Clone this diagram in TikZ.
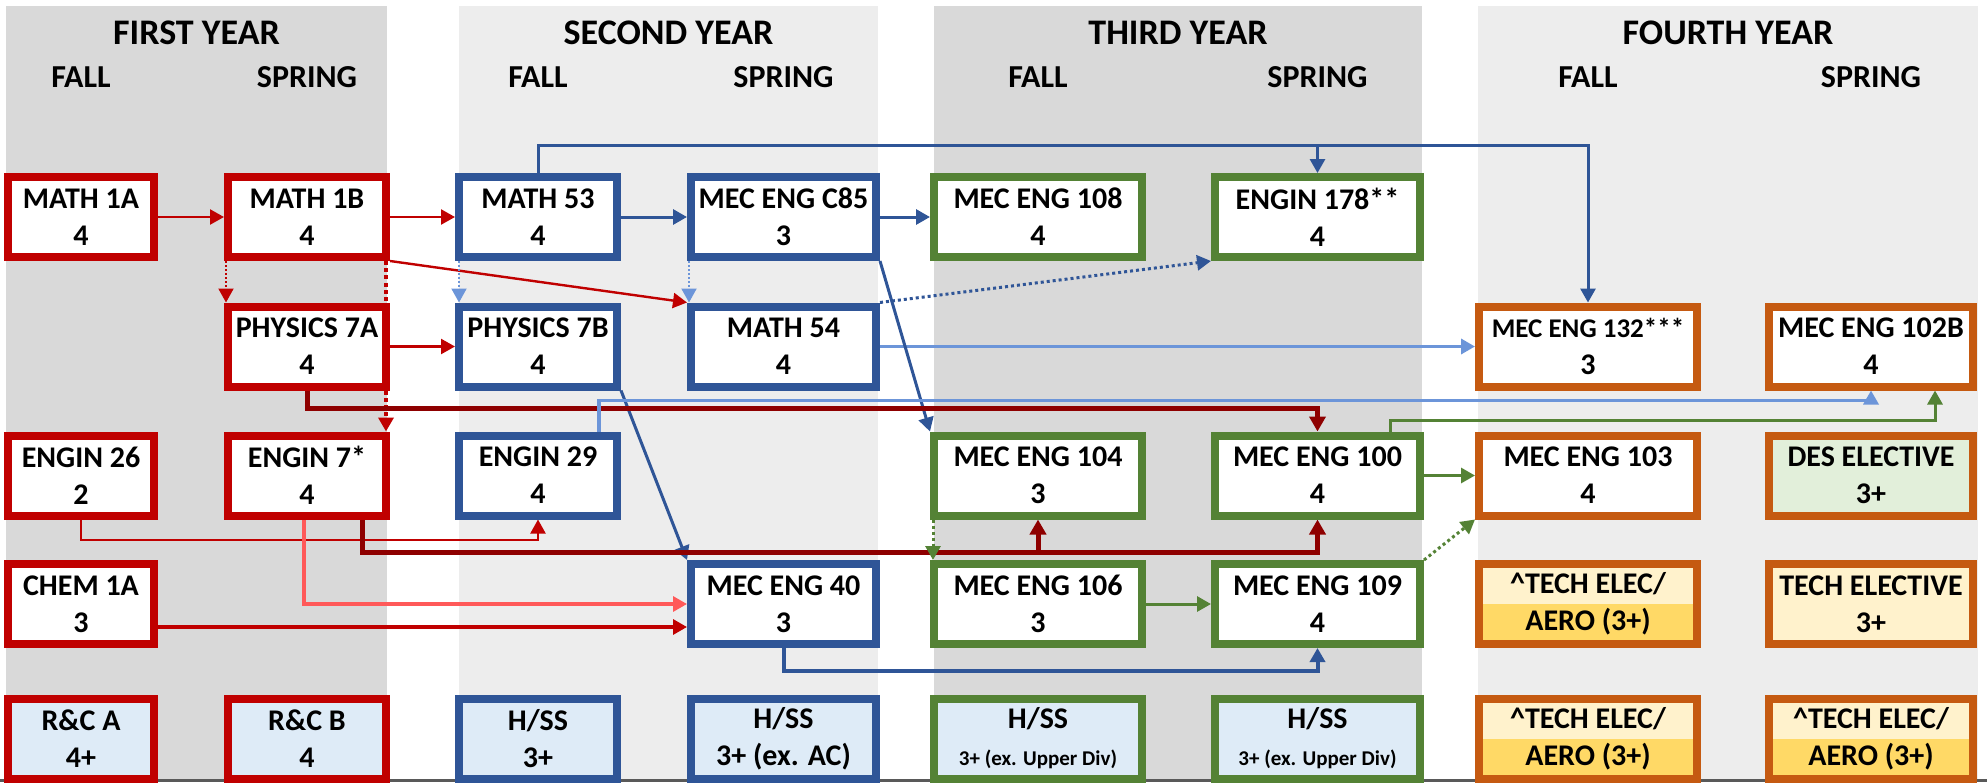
\documentclass[tikz,border=0pt]{standalone}
\usepackage{fontspec}
\setmainfont{Carlito}
\usetikzlibrary{arrows.meta,calc}
\definecolor{courseRed}{HTML}{C00000}
\definecolor{courseBlue}{HTML}{2F5597}
\definecolor{courseGreen}{HTML}{548235}
\definecolor{courseOrange}{HTML}{C55A11}
\definecolor{lineDark}{HTML}{8E0000}
\definecolor{lineSalmon}{HTML}{FF5959}
\definecolor{lineSky}{HTML}{6C95D9}
\definecolor{fillHss}{HTML}{DEEBF7}
\definecolor{fillDes}{HTML}{E2EFDA}
\definecolor{fillTech}{HTML}{FFF2CC}
\definecolor{fillAero}{HTML}{FFD966}
\definecolor{bandDark}{HTML}{D9D9D9}
\definecolor{bandLight}{HTML}{EDEDED}
\definecolor{baseGray}{HTML}{595959}

\pgfdeclarelayer{bands}
\pgfdeclarelayer{links}
\pgfsetlayers{bands,links,main}

\begin{document}
\begin{tikzpicture}[
    x=0.5pt, y=-0.5pt,
    course/.style={
        rectangle,
        line width=4pt,
        fill=white,
        minimum height=40pt,
        inner sep=0pt,
        align=center,
        text=black,
        font=\fontsize{15}{18.5}\selectfont\bfseries
    },
    redBox/.style={course, draw=courseRed},
    blueBox/.style={course, draw=courseBlue},
    greenBox/.style={course, draw=courseGreen},
    orangeBox/.style={course, draw=courseOrange},
    wOne/.style={minimum width=73pt},
    wTwo/.style={minimum width=79pt},
    wThree/.style={minimum width=79pt},
    wFour/.style={minimum width=92.5pt},
    wFive/.style={minimum width=104pt},
    wSix/.style={minimum width=102.5pt},
    wSeven/.style={minimum width=109pt},
    wEight/.style={minimum width=102pt},
    aeroSplit/.style={
        fill=fillTech,
        path picture={\fill[fillAero] (path picture bounding box.west) rectangle (path picture bounding box.south east);}
    },
    yearTitle/.style={font=\fontsize{18}{20}\selectfont\bfseries},
    termLabel/.style={font=\fontsize{16}{20}\selectfont\bfseries},
    redLink/.style={-{Triangle[length=7pt,width=7.5pt]}, draw=courseRed, line width=1.2pt},
    redThin/.style={-{Triangle[length=7pt,width=7.5pt]}, draw=courseRed, line width=1pt},
    redDotted/.style={-{Triangle[length=7pt,width=7.5pt]}, draw=courseRed, line width=1pt, dash pattern=on 1pt off 1pt},
    redDashed/.style={-{Triangle[length=7pt,width=7.5pt]}, draw=courseRed, line width=2pt, dash pattern=on 2pt off 1.6pt},
    darkLink/.style={-{Triangle[length=7.5pt,width=8pt]}, draw=lineDark, line width=2.5pt},
    salmonLink/.style={-{Triangle[length=7pt,width=7.5pt]}, draw=lineSalmon, line width=1.6pt},
    blueLink/.style={-{Triangle[length=7pt,width=7.5pt]}, draw=courseBlue, line width=1.5pt},
    blueDotted/.style={-{Triangle[length=7pt,width=7.5pt]}, draw=courseBlue, line width=1.5pt, dash pattern=on 1.5pt off 1.5pt},
    skyLink/.style={-{Triangle[length=7pt,width=7.5pt]}, draw=lineSky, line width=1.7pt},
    skyDotted/.style={-{Triangle[length=7pt,width=7.5pt]}, draw=lineSky, line width=1pt, dash pattern=on 1pt off 1pt},
    greenLink/.style={-{Triangle[length=7pt,width=7.5pt]}, draw=courseGreen, line width=1.5pt},
    greenDotted/.style={-{Triangle[length=7pt,width=7.5pt]}, draw=courseGreen, line width=1.5pt, dash pattern=on 1.5pt off 1.5pt}
]
\useasboundingbox (0,0) rectangle (1987,782);

% Year bands.
\begin{pgfonlayer}{bands}
\fill[bandDark] (6,6) rectangle (387,782);
\fill[bandLight] (459,6) rectangle (878,782);
\fill[bandDark] (934,6) rectangle (1422,782);
\fill[bandLight] (1478,6) rectangle (1978,782);
\draw[baseGray, line width=1.5pt] (0,780) -- (1987,780);
\end{pgfonlayer}

% Headers.
\node[yearTitle] (yearOne) at (196.5,33) {FIRST YEAR};
\node[yearTitle] (yearTwo) at (668.5,33) {SECOND YEAR};
\node[yearTitle] (yearThree) at (1178,33) {THIRD YEAR};
\node[yearTitle] (yearFour) at (1728,33) {FOURTH YEAR};
\node[termLabel] (fallOne) at (81,77) {FALL};
\node[termLabel] (springOne) at (307,77) {SPRING};
\node[termLabel] (fallTwo) at (538,77) {FALL};
\node[termLabel] (springTwo) at (783.5,77) {SPRING};
\node[termLabel] (fallThree) at (1038,77) {FALL};
\node[termLabel] (springThree) at (1317.5,77) {SPRING};
\node[termLabel] (fallFour) at (1588,77) {FALL};
\node[termLabel] (springFour) at (1871,77) {SPRING};

% Courses, row by row.
\node[redBox, wOne] (m1a) at (81,217) {MATH 1A\\4};
\node[redBox, wTwo] (m1b) at (307,217) {MATH 1B\\4};
\node[blueBox, wThree] (m53) at (538,217) {MATH 53\\4};
\node[blueBox, wFour] (c85) at (783.5,217) {MEC ENG C85\\3};
\node[greenBox, wFive] (me108) at (1038,217) {MEC ENG 108\\4};
\node[greenBox, wSix] (e178) at (1317.5,217) {ENGIN 178**\\4};

\node[redBox, wTwo] (p7a) at (307,346.5) {PHYSICS 7A\\4};
\node[blueBox, wThree] (p7b) at (538,346.5) {PHYSICS 7B\\4};
\node[blueBox, wFour] (m54) at (783.5,346.5) {MATH 54\\4};
\node[orangeBox, wSeven] (me132) at (1588,346.5) {{\fontsize{13.5}{18.5}\selectfont MEC ENG 132***}\\3};
\node[orangeBox, wEight] (me102b) at (1871,346.5) {MEC ENG 102B\\4};

\node[redBox, wOne] (e26) at (81,475.5) {ENGIN 26\\2};
\node[redBox, wTwo] (e7) at (307,475.5) {ENGIN 7*\\4};
\node[blueBox, wThree] (e29) at (538,475.5) {ENGIN 29\\4};
\node[greenBox, wFive] (me104) at (1038,475.5) {MEC ENG 104\\3};
\node[greenBox, wSix] (me100) at (1317.5,475.5) {MEC ENG 100\\4};
\node[orangeBox, wSeven] (me103) at (1588,475.5) {MEC ENG 103\\4};
\node[orangeBox, wEight, fill=fillDes] (desElec) at (1871,475.5) {DES ELECTIVE\\3+};

\node[redBox, wOne] (chem) at (81,604) {CHEM 1A\\3};
\node[blueBox, wFour] (me40) at (783.5,604) {MEC ENG 40\\3};
\node[greenBox, wFive] (me106) at (1038,604) {MEC ENG 106\\3};
\node[greenBox, wSix] (me109) at (1317.5,604) {MEC ENG 109\\4};
\node[orangeBox, wSeven, aeroSplit] (aeroA) at (1588,604) {\textasciicircum TECH ELEC/\\AERO (3+)};
\node[orangeBox, wEight, fill=fillTech] (techElec) at (1871,604) {TECH ELECTIVE\\3+};

\node[redBox, wOne, fill=fillHss] (rcA) at (81,738.5) {R\&C A\\4+};
\node[redBox, wTwo, fill=fillHss] (rcB) at (307,738.5) {R\&C B\\4};
\node[blueBox, wThree, fill=fillHss] (hssA) at (538,738.5) {H/SS\\3+};
\node[blueBox, wFour, fill=fillHss] (hssB) at (783.5,738.5) {H/SS\\3+ (ex. AC)};
\node[greenBox, wFive, fill=fillHss] (hssC) at (1038,738.5) {H/SS\\{\fontsize{10.5}{18.5}\selectfont 3+ (ex. Upper Div)}};
\node[greenBox, wSix, fill=fillHss] (hssD) at (1317.5,738.5) {H/SS\\{\fontsize{10.5}{18.5}\selectfont 3+ (ex. Upper Div)}};
\node[orangeBox, wSeven, aeroSplit] (aeroB) at (1588,738.5) {\textasciicircum TECH ELEC/\\AERO (3+)};
\node[orangeBox, wEight, aeroSplit] (aeroC) at (1871,738.5) {\textasciicircum TECH ELEC/\\AERO (3+)};

% Prerequisite links, kept behind the boxes.
\begin{pgfonlayer}{links}
\draw[redLink] (m1a) -- (m1b);
\draw[redLink] (m1b) -- (m53);
\draw[blueLink] (m53) -- (c85);
\draw[blueLink] (c85) -- (me108);
\draw[redLink] (p7a) -- (p7b);
\draw[redLink] (m1b.south east) -- (m54.north west);
\draw[redDotted] ($(m1b.south west)+(2,0)$) -- ($(p7a.north west)+(2,0)$);
\draw[redDashed] ($(m1b.south east)+(-4,0)$) -- ($(e7.north east)+(-4,0)$);
\draw[skyDotted] ($(m53.south west)+(4,0)$) -- ($(p7b.north west)+(4,0)$);
\draw[skyDotted] ($(c85.south west)+(2,0)$) -- ($(m54.north west)+(2,0)$);
\draw[blueDotted] (m54.north east) -- (e178.south west);
\draw[skyLink] (m54) -- (me132);
\draw[blueLink] (c85.south east) -- (me104.north west);
\draw[blueLink] (p7b.south east) -- (me40.north west);

% Over the top.
\draw[blueLink] (m53.north) -- ++(0,-28) -| (e178.north);
\draw[blueLink] (m53.north) -- ++(0,-28) -| (me132.north);

% Between rows 2 and 3.
\draw[darkLink] (p7a.south) -- ++(0,18) -| (me100.north);
\draw[skyLink] ($(e29.north)+(61,0)$) -- ++(0,-31) -| (me102b.south);
\draw[greenLink] ($(me100.north)+(72.5,0)$) -- ++(0,-11.5) -| ($(me102b.south)+(64,0)$);

% Lower rows.
\draw[redThin] (e26.south) -- ++(0,20) -| (e29.south);
\draw[salmonLink] ($(e7.south)+(-3,0)$) |- (me40.west);
\draw[darkLink] ($(e7.south)+(55,0)$) -- ++(0,32.5) -| (me104.south);
\draw[darkLink] ($(e7.south)+(55,0)$) -- ++(0,32.5) -| (me100.south);
\draw[redLink, line width=1.6pt] ($(chem.east)+(0,23)$) -- ($(me40.west)+(0,23)$);
\draw[greenDotted] ($(me104.south west)+(3,0)$) -- ($(me106.north west)+(3,0)$);
\draw[greenLink] (me106) -- (me109);
\draw[blueLink, line width=2pt] (me40.south) -- ++(0,23) -| (me109.south);
\draw[greenLink] (me100) -- (me103);
\draw[greenDotted] (me109.north east) -- (me103.south west);
\end{pgfonlayer}

\end{tikzpicture}
\end{document}
